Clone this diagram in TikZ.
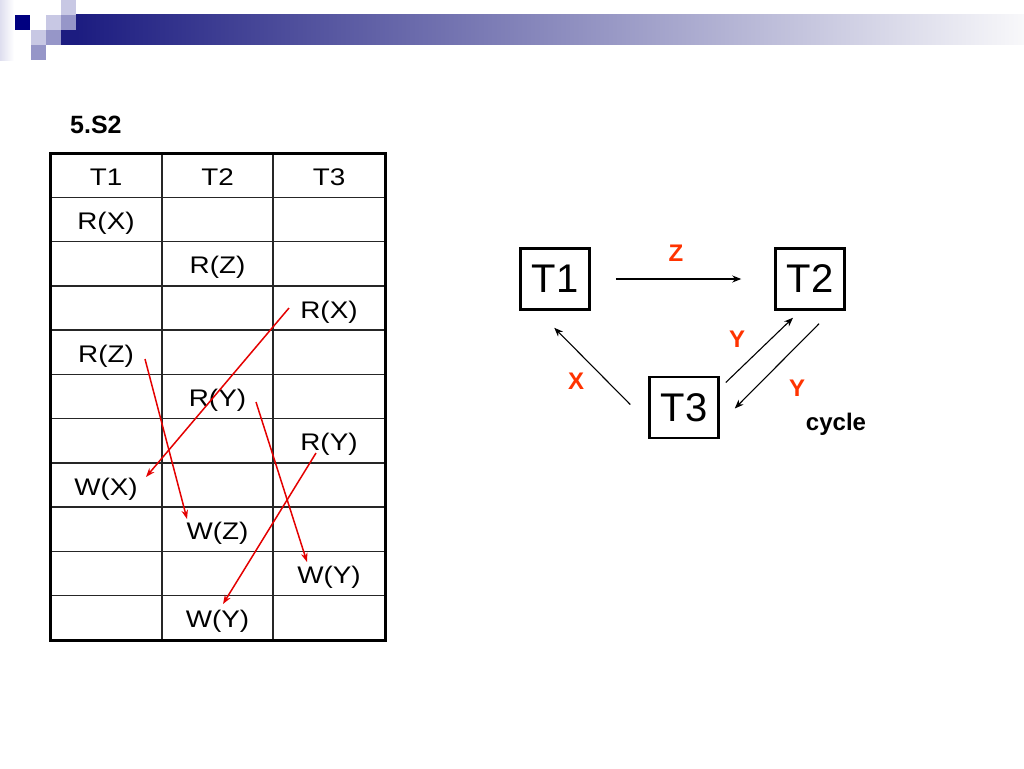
\documentclass[tikz,border=0pt]{standalone}
\usepackage{fontspec}
\usepackage{graphicx}
\setmainfont{Liberation Sans}
\usetikzlibrary{arrows.meta}
\definecolor{navy}{RGB}{0,0,128}
\definecolor{barnavy}{RGB}{28,28,128}
\definecolor{barmid}{RGB}{150,150,182}
\definecolor{barend}{RGB}{248,248,250}
\definecolor{lav}{RGB}{200,200,228}
\definecolor{medlav}{RGB}{150,150,200}
\definecolor{lblred}{RGB}{255,51,0}
\definecolor{arrred}{RGB}{228,0,0}
\newcommand\tstretch[1]{\scalebox{1.16}[1]{#1}}
\begin{document}
\begin{tikzpicture}[x=1pt,y=-1pt,
  cell/.style={anchor=base,inner sep=0pt,font=\fontsize{24}{28}\selectfont},
  gbox/.style={draw,line width=2.5pt,minimum width=69pt,minimum height=61pt,inner sep=0pt,font=\fontsize{40}{44}\selectfont},
  garrow/.style={line width=1.1pt,-{Stealth[length=9pt,width=7pt]}},
  rarrow/.style={draw=arrred,line width=1.5pt,-{Stealth[length=9pt,width=6.5pt]},arrred},
  lbl/.style={text=lblred,font=\fontsize{24}{28}\selectfont\bfseries,inner sep=0pt},
  sq/.style={fill=#1,draw=none}
]
\useasboundingbox (0,0) rectangle (1024,768);
\fill[white] (0,0) rectangle (1024,768);
% header decoration
\shade[left color=lav!60,right color=white] (0,0) rectangle (14,60);
\shade[left color=barnavy,middle color=barmid,right color=barend] (76,15) rectangle (1024,45);
\fill[barnavy] (61,30) rectangle (76.5,45);
\fill[sq=navy] (15,15) rectangle (30,30);
\fill[sq=lav] (46,15) rectangle (61,30);
\fill[sq=medlav] (61,15) rectangle (76,30);
\fill[sq=lav] (61,0) rectangle (76,15);
\fill[sq=lav] (31,30) rectangle (46,45);
\fill[sq=medlav] (46,30) rectangle (61,45);
\fill[sq=medlav] (31,45) rectangle (46,60);
% title
\node[anchor=base west,inner sep=0pt,font=\fontsize{25}{29}\selectfont\bfseries] (title) at (70,133) {5.S2};
% table grid
\foreach \k in {1,...,10} {
  \draw[line width=1.5pt,black!85] (50,{153+\k*44.27}) -- (385,{153+\k*44.27});
}
\draw[line width=1.5pt,black!85] (162,153) -- (162,640);
\draw[line width=1.5pt,black!85] (273,153) -- (273,640);
\draw[line width=3pt] (50,153) rectangle (385,640);
% table texts (baseline = row centre + 10)
\node[cell] (h1) at (106,185.1) {\tstretch{T1}};
\node[cell] (h2) at (217.5,185.1) {\tstretch{T2}};
\node[cell] (h3) at (329,185.1) {\tstretch{T3}};
\node[cell] (r1) at (106,229.4) {\tstretch{R(X)}};
\node[cell] (r2) at (217.5,273.7) {\tstretch{R(Z)}};
\node[cell] (r3) at (329,318) {\tstretch{R(X)}};
\node[cell] (r4) at (106,362.2) {\tstretch{R(Z)}};
\node[cell] (r5) at (217.5,406.5) {\tstretch{R(Y)}};
\node[cell] (r6) at (329,450.8) {\tstretch{R(Y)}};
\node[cell] (r7) at (106,495) {\tstretch{W(X)}};
\node[cell] (r8) at (217.5,539.3) {\tstretch{W(Z)}};
\node[cell] (r9) at (329,583.6) {\tstretch{W(Y)}};
\node[cell] (r10) at (217.5,627.9) {\tstretch{W(Y)}};
% red conflict arrows
\coordinate (a1s) at (289,308); \coordinate (a1e) at (146,477);
\coordinate (a2s) at (145,359); \coordinate (a2e) at (187,519);
\coordinate (a3s) at (256,402); \coordinate (a3e) at (307,562);
\coordinate (a4s) at (316,453); \coordinate (a4e) at (223,604);
\draw[rarrow] (a1s) -- (a1e);
\draw[rarrow] (a2s) -- (a2e);
\draw[rarrow] (a3s) -- (a3e);
\draw[rarrow] (a4s) -- (a4e);
% precedence graph
\node[gbox] (T1) at (555,279) {T1};
\node[gbox] (T2) at (810,279) {T2};
\node[gbox] (T3) at (684,407.5) {T3};
\draw[garrow] ([xshift=25pt]T1.east) -- ([xshift=-33pt]T2.west);
\draw[garrow] ([shift={(-18,-3)}]T3.west) -- ([shift={(35,17)}]T1.south west);
\draw[garrow] ([shift={(6,-25)}]T3.east) -- ([shift={(-17,7)}]T2.south);
\draw[garrow] ([shift={(9,13)}]T2.south) -- ([shift={(15,1)}]T3.east);
\node[lbl] (lz) at (676,253) {Z};
\node[lbl] (ly1) at (737,339) {Y};
\node[lbl] (lx) at (576,381) {X};
\node[lbl] (ly2) at (797,388) {Y};
\node[anchor=base,inner sep=0pt,font=\fontsize{24}{28}\selectfont\bfseries] (cyc) at (836,430) {cycle};
\end{tikzpicture}
\end{document}
